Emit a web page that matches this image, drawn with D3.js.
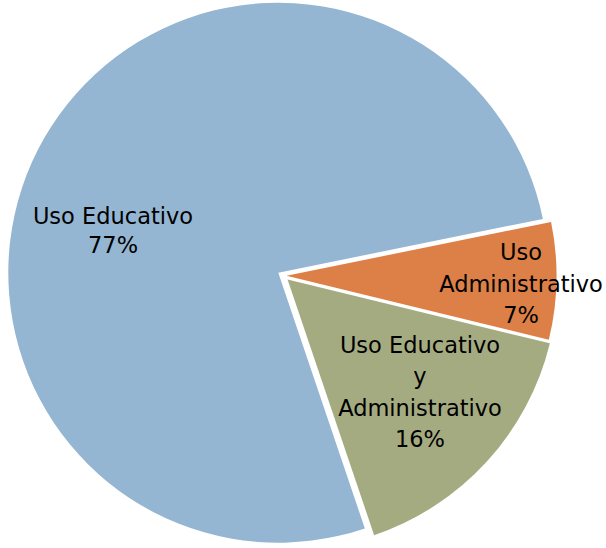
<!DOCTYPE html>
<html>
<head>
<meta charset="utf-8">
<script src="https://cdn.jsdelivr.net/npm/d3@7"></script>
<style>
  html, body { margin: 0; padding: 0; background: #ffffff; }
  svg { display: block; }
</style>
</head>
<body>
<div id="chart"></div>
<script>
// ---- data ----
const categories = ["Uso Educativo", "Uso Administrativo", "Uso Educativo y Administrativo"];
const values = [77, 7, 16];
const labelLines = [
  ["Uso Educativo"],
  ["Uso", "Administrativo"],
  ["Uso Educativo", "y", "Administrativo"]
];

// ---- style / layout ----
const colors = ["#94B6D2", "#DD8047", "#A5AB81"];
const W = 606, H = 548;
const cx = 283.5, cy = 275.7, R = 270;
const startDeg = 161.3;
const explode = [6, 3, 5.5];
// label anchor: offset from pie centre (x of text centre, first baseline), line height
const labelLayout = [
  { dx: -170.5, dy: -51.7, lh: 28.5 },
  { dx: 237.5, dy: -15.7, lh: 31.6 },
  { dx: 136.5, dy: 77.6, lh: 31.2 }
];

const svg = d3.select("#chart").append("svg")
  .attr("width", W).attr("height", H);

const rad = d => d * Math.PI / 180;
const pie = d3.pie().sort(null)
  .startAngle(rad(startDeg))
  .endAngle(rad(startDeg + 360));
const arcs = pie(values);
const arc = d3.arc().innerRadius(0).outerRadius(R);

const g = svg.append("g").attr("transform", `translate(${cx},${cy})`);

g.selectAll("path.slice")
  .data(arcs)
  .join("path")
  .attr("class", "slice")
  .attr("d", arc)
  .attr("fill", (d, i) => colors[i])
  .attr("transform", (d, i) => {
    const m = (d.startAngle + d.endAngle) / 2;
    return `translate(${explode[i] * Math.sin(m)},${-explode[i] * Math.cos(m)})`;
  });

const total = d3.sum(values);
const fmt = v => Math.round(v / total * 100) + "%";

arcs.forEach((d, i) => {
  const L = labelLayout[i];
  const lines = labelLines[i].concat([fmt(d.value)]);
  const t = g.append("text")
    .attr("text-anchor", "middle")
    .attr("font-family", "'DejaVu Sans', sans-serif")
    .attr("font-size", "22.5px")
    .attr("fill", "#000");
  lines.forEach((ln, k) => {
    t.append("tspan")
      .attr("x", L.dx)
      .attr("y", L.dy + k * L.lh)
      .text(ln);
  });
});
</script>
</body>
</html>
